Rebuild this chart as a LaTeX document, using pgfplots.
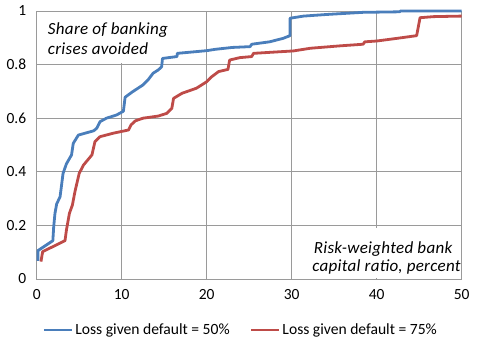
\documentclass[border=0pt]{standalone}
\usepackage{pgfplots}
\pgfplotsset{compat=1.18}
\usepackage{fontspec}
\setmainfont{Carlito}
\definecolor{lgdblue}{HTML}{4A7EBB}
\definecolor{lgdred}{HTML}{BE4B48}
\definecolor{gridc}{HTML}{9A9A9A}
\newcommand{\annfont}{\fontsize{17}{20}\selectfont\itshape\addfontfeatures{LetterSpace=1.8}}
\begin{document}
\begin{tikzpicture}
\begin{axis}[
  scale only axis, width=425pt, height=268pt,
  at={(0,0)}, anchor=origin,
  xmin=0, xmax=50, ymin=0, ymax=1,
  xtick={0,10,...,50}, ytick={0,0.2,...,1},
  yticklabels={0,0.2,0.4,0.6,0.8,1},
  grid=major, major grid style={gridc, line width=0.9pt},
  axis line style={gridc, line width=0.9pt},
  major tick length=0pt,
  tick label style={font=\fontsize{15.5}{18}\selectfont},
  /pgf/number format/assume math mode=true,
  xticklabel style={yshift=-7pt},
  yticklabel style={xshift=-7pt},
  clip=false,
  legend columns=2,
  legend style={draw=none, fill=none, at={(0.48,-0.19)}, anchor=center,
    font=\fontsize{15.6}{18}\selectfont,
    /tikz/every even column/.append style={column sep=18pt}},
  legend image code/.code={\draw[#1] (0pt,0pt) -- (28pt,0pt);},
]
\fill[white] (rel axis cs:0.003,0.805) rectangle (rel axis cs:0.314,0.997);
\fill[white] (rel axis cs:0.636,0.003) rectangle (rel axis cs:0.997,0.19);
\node[anchor=base west, inner sep=0pt, font=\annfont] at (rel axis cs:0.026,0.912) {Share of banking};
\node[anchor=base west, inner sep=0pt, font=\annfont] at (rel axis cs:0.026,0.838) {crises avoided};
\node[anchor=base, inner sep=0pt, font=\annfont] at (rel axis cs:0.815,0.096) {Risk-weighted bank};
\node[anchor=base, inner sep=0pt, font=\annfont] at (rel axis cs:0.823,0.027) {capital ratio, percent};
\addplot[lgdblue, line width=2.8pt, line join=round] coordinates {
(0.15,0.068) (0.15,0.106) (1.9,0.143) (2.0,0.195) (2.15,0.245) (2.35,0.28)
(2.75,0.307) (2.9,0.344) (3.1,0.394) (3.5,0.43) (4.1,0.463) (4.3,0.506)
(4.9,0.537) (6.7,0.553) (7.05,0.562) (7.45,0.587) (8.2,0.6) (9.4,0.612)
(10.2,0.626) (10.4,0.678) (11.2,0.697) (12.5,0.724) (13.1,0.743) (13.7,0.768)
(14.3,0.78) (14.7,0.792) (14.8,0.823) (16.5,0.83) (16.55,0.842) (20,0.852)
(21,0.857) (23,0.864) (25.1,0.867) (25.3,0.876) (27.4,0.885) (29,0.898)
(29.8,0.908) (29.8,0.973) (31.4,0.981) (34.1,0.987) (38.4,0.995) (42.7,0.997)
(42.8,1.0) (50,1.0)
};
\addlegendentry{Loss given default = 50\%}
\addplot[lgdred, line width=2.8pt, line join=round] coordinates {
(0.5,0.065) (0.7,0.102) (3.33,0.143) (3.5,0.183) (3.85,0.245) (4.2,0.276)
(4.5,0.326) (5.0,0.394) (5.5,0.425) (6.5,0.463) (6.85,0.512) (7.45,0.531)
(9.0,0.544) (10.8,0.556) (11.1,0.575) (11.6,0.59) (12.5,0.6) (14.3,0.608)
(15.3,0.618) (15.9,0.637) (16.1,0.674) (17.1,0.693) (18.8,0.712) (20,0.736)
(20.6,0.755) (21.4,0.774) (22.5,0.782) (22.7,0.817) (23.9,0.826) (25.3,0.83)
(25.5,0.842) (30.2,0.851) (32.2,0.861) (35.7,0.87) (38.4,0.876) (38.6,0.885)
(40,0.888) (42.4,0.898) (44.7,0.908) (45.1,0.975) (46.7,0.979) (50,0.981)
};
\addlegendentry{Loss given default = 75\%}
\end{axis}
\useasboundingbox (-36.7pt,-72pt) rectangle (443.3pt,279pt);
\end{tikzpicture}
\end{document}
